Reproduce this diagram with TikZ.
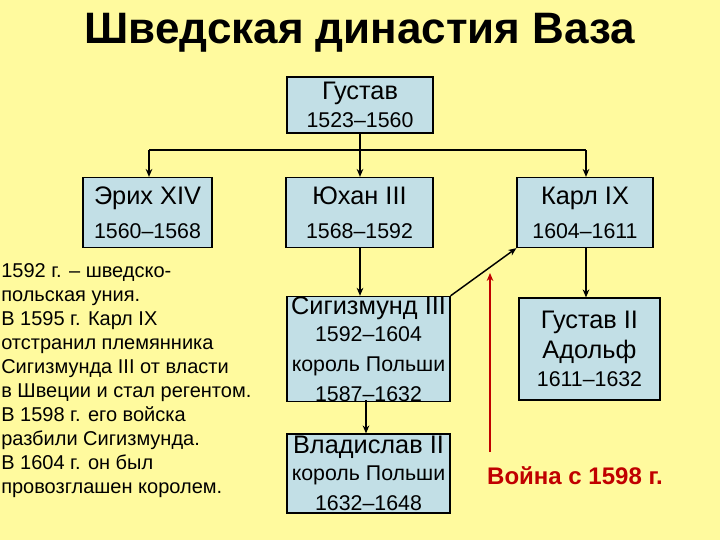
\documentclass[tikz,border=0pt]{standalone}
\usepackage{fontspec}
\setmainfont{Liberation Sans}
\usetikzlibrary{arrows.meta}
\definecolor{bg}{HTML}{FFFA9E}
\definecolor{boxc}{HTML}{C2DFE6}
\definecolor{warred}{HTML}{C00000}
\newcommand{\dfs}{\fontsize{16}{17.5}\selectfont}
\begin{document}
\begin{tikzpicture}[x=0.75pt,y=-0.75pt,
  box/.style={draw=black,fill=boxc,line width=0.9pt,align=center,inner sep=0pt,
    font=\fontsize{19}{22.5}\selectfont},
  conn/.style={draw=black,line width=1.1pt,-{Stealth[length=6pt,width=5pt]}}]
\path[use as bounding box,fill=bg] (0,0) rectangle (720,540);
\node[font=\fontsize{33}{38}\selectfont\bfseries] (title) at (360,33) {Шведская династия Ваза};
\node[box,minimum width=146*0.75pt,minimum height=56*0.75pt] (gus) at (360,105)
  {Густав\\[-2pt]\dfs 1523–1560};
\node[box,minimum width=129*0.75pt,minimum height=70*0.75pt] (eri) at (147.5,212.5)
  {Эрих XIV\\[3pt]\dfs 1560–1568};
\node[box,minimum width=147*0.75pt,minimum height=70*0.75pt] (joh) at (359.5,212.5)
  {Юхан III\\[3pt]\dfs 1568–1592};
\node[box,minimum width=136*0.75pt,minimum height=70*0.75pt] (kar) at (585,212.5)
  {Карл IX\\[3pt]\dfs 1604–1611};
\node[box,minimum width=163*0.75pt,minimum height=102*0.75pt] (sig) at (368.5,349)
  {Сигизмунд III\\[-2pt]\dfs 1592–1604\\\dfs король Польши\\\dfs 1587–1632};
\node[box,minimum width=141*0.75pt,minimum height=102*0.75pt] (gu2) at (589.5,349)
  {Густав II\\Адольф\\[-2pt]\dfs 1611–1632};
\node[box,minimum width=163*0.75pt,minimum height=79*0.75pt] (vla) at (368.5,473.5)
  {Владислав II\\[-2pt]\dfs король Польши\\\dfs 1632–1648};
\coordinate (hl) at (149,150);
\coordinate (hr) at (586,150);
\coordinate (hm) at (360,150);
\draw[line width=1.1pt] (gus.south) -- (hm);
\draw[line width=1.1pt] (hl) -- (hr);
\draw[conn] (hl) -- (hl|-eri.north);
\draw[conn] (hm) -- (hm|-joh.north);
\draw[conn] (hr) -- (hr|-kar.north);
\draw[conn] (hm|-joh.south) -- (hm|-sig.north);
\draw[conn] (sig.north east) -- (kar.south west);
\draw[conn] (hr|-kar.south) -- (hr|-gu2.north);
\coordinate (sv) at (366,400);
\draw[conn] (sv) -- (sv|-vla.north);
\coordinate (ra) at (490,452);
\coordinate (rb) at (490,273);
\draw[draw=warred,line width=0.9pt,-{Stealth[length=6pt,width=5pt]}] (ra) -- (rb);
\node[text=warred,font=\fontsize{18}{21}\selectfont\bfseries] (war) at (575,476) {Война с 1598 г.};
\node[anchor=north west,align=left,inner sep=0pt,font=\fontsize{15}{18}\selectfont] (txt) at (1,263)
  {1592 г. – шведско-\\польская уния.\\В 1595 г. Карл IX\\отстранил племянника\\Сигизмунда III от власти\\в Швеции и стал регентом.\\В 1598 г. его войска\\разбили Сигизмунда.\\В 1604 г. он был\\провозглашен королем.};
\end{tikzpicture}
\end{document}
